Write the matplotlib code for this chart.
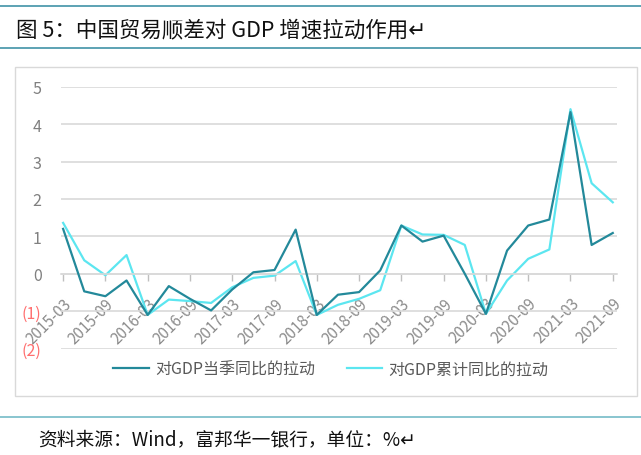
import matplotlib
matplotlib.use("Agg")
import matplotlib.pyplot as plt
from matplotlib.patches import Rectangle
from matplotlib.lines import Line2D

plt.rcParams['font.family'] = ['Noto Sans CJK SC', 'DejaVu Sans']

# 季度 2015-03 ... 2021-09
quarters = ['2015-03', '2015-06', '2015-09', '2015-12',
            '2016-03', '2016-06', '2016-09', '2016-12',
            '2017-03', '2017-06', '2017-09', '2017-12',
            '2018-03', '2018-06', '2018-09', '2018-12',
            '2019-03', '2019-06', '2019-09', '2019-12',
            '2020-03', '2020-06', '2020-09', '2020-12',
            '2021-03', '2021-06', '2021-09']

# 对GDP当季同比的拉动
dangji = [1.20, -0.47, -0.60, -0.18, -1.10, -0.33, -0.67, -0.98, -0.42, 0.04,
          0.10, 1.18, -1.10, -0.56, -0.49, 0.09, 1.29, 0.86, 1.02, 0.00,
          -1.07, 0.62, 1.29, 1.45, 4.32, 0.77, 1.09]

# 对GDP累计同比的拉动
leiji = [1.36, 0.36, -0.04, 0.50, -1.10, -0.69, -0.73, -0.78, -0.36, -0.11,
         -0.05, 0.34, -1.10, -0.83, -0.67, -0.44, 1.29, 1.05, 1.04, 0.77,
         -1.07, -0.18, 0.40, 0.65, 4.40, 2.42, 1.91]

y_ticks = [-2, -1, 0, 1, 2, 3, 4, 5]

title = '图 5：中国贸易顺差对 GDP 增速拉动作用↵'
source = '资料来源：Wind，富邦华一银行，单位：%↵'

W, H = 641, 456
fig = plt.figure(figsize=(W / 100, H / 100), dpi=100)

def fy(py):
    return 1 - py / H

# 标题区的上下两条线
for py, c in [(7, '#4F9BAE'), (49, '#4F9BAE'), (417.5, '#7FC0CC')]:
    fig.add_artist(Line2D([0, 1], [fy(py), fy(py)], color=c, lw=1.3))

fig.text(16 / W, fy(30), title, fontsize=15.5, va='center', ha='left', color='#111111')
fig.text(38 / W, fy(440), source, fontsize=13.5, va='center', ha='left', color='#111111')

# 图表外框
fig.add_artist(Rectangle((15 / W, fy(397)), (637 - 15) / W, (397 - 68) / H,
                         fill=False, edgecolor='#D9D9D9', lw=1))

ax = fig.add_axes([61 / W, fy(349.6), (617 - 61) / W, (349.6 - 87.7) / H])
x = list(range(len(quarters)))
l1, = ax.plot(x, dangji, color='#23899A', lw=1.6, label='对GDP当季同比的拉动', zorder=3)
l2, = ax.plot(x, leiji, color='#5CE6F0', lw=1.6, label='对GDP累计同比的拉动', zorder=2)

ax.set_xlim(-0.1, 26.2)
ax.set_ylim(-2, 5)
for s in ['left', 'right', 'top']:
    ax.spines[s].set_visible(False)
ax.spines['bottom'].set_position(('data', 0))
ax.spines['bottom'].set_color('#D9D9D9')
ax.spines['bottom'].set_linewidth(1.2)
ax.set_yticks(y_ticks)
ax.yaxis.grid(True, color='#D9D9D9', lw=1.2)
ax.set_axisbelow(True)

ylabels = ['(%d)' % -v if v < 0 else '%d' % v for v in y_ticks]
ax.set_yticklabels(ylabels)
for lab, v in zip(ax.get_yticklabels(), y_ticks):
    lab.set_color('#FF6F6F' if v < 0 else '#808080')
ax.tick_params(axis='y', length=0, pad=14, labelsize=11.5)

ax.set_xticks(x[::2])
ax.set_xticklabels(quarters[::2], rotation=45, ha='right', va='top',
                   rotation_mode='anchor', color='#8C8C8C', fontsize=11)
ax.tick_params(axis='x', length=5, color='#BFBFBF', width=1, pad=10)

fig.legend(handles=[l1, l2], loc='center', bbox_to_anchor=(331 / W, fy(370)),
           ncol=2, frameon=False, fontsize=11.5, handlelength=2.2,
           handletextpad=0.4, columnspacing=2.0, labelcolor='#595959')

fig.savefig('out.png', dpi=100)
